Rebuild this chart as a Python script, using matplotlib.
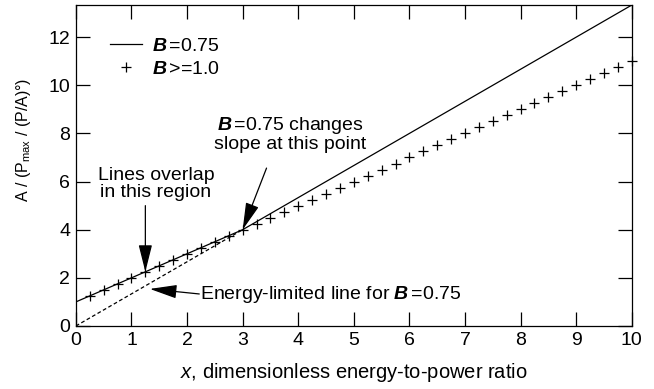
import matplotlib
matplotlib.use("Agg")
import matplotlib.pyplot as plt

plt.rcParams["font.family"] = ["Liberation Sans", "DejaVu Sans"]
plt.rcParams["mathtext.fontset"] = "custom"
plt.rcParams["mathtext.bf"] = "Liberation Sans:bold:italic"
plt.rcParams["mathtext.it"] = "Liberation Sans:italic"
plt.rcParams["mathtext.rm"] = "Liberation Sans"

# B = 0.75 curve: power-limited up to x=3, then energy-limited
b75_x = [0, 3, 10]
b75_y = [1.0, 4.0, 13.333]
# energy-limited line for B=0.75 (dashed, below the kink)
el_x = [0, 3]
el_y = [0.0, 4.0]
# B >= 1.0 points
bge1_x = [0.25, 0.5, 0.75, 1.0, 1.25, 1.5, 1.75, 2.0, 2.25, 2.5, 2.75, 3.0,
          3.25, 3.5, 3.75, 4.0, 4.25, 4.5, 4.75, 5.0, 5.25, 5.5, 5.75, 6.0,
          6.25, 6.5, 6.75, 7.0, 7.25, 7.5, 7.75, 8.0, 8.25, 8.5, 8.75, 9.0,
          9.25, 9.5, 9.75, 10.0]
bge1_y = [1.25, 1.5, 1.75, 2.0, 2.25, 2.5, 2.75, 3.0, 3.25, 3.5, 3.75, 4.0,
          4.25, 4.5, 4.75, 5.0, 5.25, 5.5, 5.75, 6.0, 6.25, 6.5, 6.75, 7.0,
          7.25, 7.5, 7.75, 8.0, 8.25, 8.5, 8.75, 9.0, 9.25, 9.5, 9.75, 10.0,
          10.25, 10.5, 10.75, 11.0]

FS = 14
fig = plt.figure(figsize=(6.54, 3.89), dpi=100)
ax = fig.add_axes([0.116, 0.162, 0.850, 0.825])

ax.plot(b75_x, b75_y, "-", color="k", lw=0.9, label=r"$\mathbf{B}\,$=0.75")
ax.plot(el_x, el_y, "--", color="k", lw=0.9, dashes=(3, 2))
ax.plot(bge1_x, bge1_y, "+", color="k", ms=7, mew=0.9, ls="none",
        label=r"$\mathbf{B}\,$>=1.0", clip_on=False)

ax.set_xlim(0, 10)
ax.set_ylim(0, 13.333)
ax.set_xticks(range(0, 11))
ax.set_yticks(range(0, 13, 2))
ax.tick_params(direction="in", length=10, width=0.9, top=True, right=True,
               labelsize=FS, pad=4)
for s in ax.spines.values():
    s.set_linewidth(0.9)

ax.set_xlabel(r"$x$, dimensionless energy-to-power ratio", fontsize=FS + 0.5, labelpad=9)
ax.set_ylabel(r"A / (P$_{\rm max}$ / (P/A)°)", fontsize=11.5)
ax.yaxis.set_label_coords(-0.077, 0.58)

ax.legend(loc="upper left", bbox_to_anchor=(0.061, 0.90), frameon=False,
          fontsize=FS, handlelength=1.65, handletextpad=0.5, labelspacing=0.3,
          borderpad=0, borderaxespad=0)

arrow = dict(arrowstyle="-|>,head_length=1.2,head_width=0.3", color="k", lw=0.9,
             shrinkA=0, shrinkB=0)
ax.text(1.44, 5.2, "Lines overlap\nin this region", ha="center", va="bottom",
        fontsize=FS, linespacing=1.0)
ax.annotate("", xy=(1.25, 2.25), xytext=(1.25, 5.0), fontsize=FS, arrowprops=arrow)

ax.text(3.85, 7.2, r"$\mathbf{B}\,$=0.75 changes" + "\nslope at this point",
        ha="center", va="bottom", fontsize=FS, linespacing=1.0)
ax.annotate("", xy=(3.0, 4.0), xytext=(3.43, 6.56), fontsize=FS, arrowprops=arrow)

ax.text(2.23, 1.29, r"Energy-limited line for $\mathbf{B}\,$=0.75", ha="left",
        va="center", fontsize=FS)
ax.annotate("", xy=(1.33, 1.54), xytext=(2.22, 1.33), fontsize=FS, arrowprops=arrow)

fig.savefig("out.png", dpi=100)
